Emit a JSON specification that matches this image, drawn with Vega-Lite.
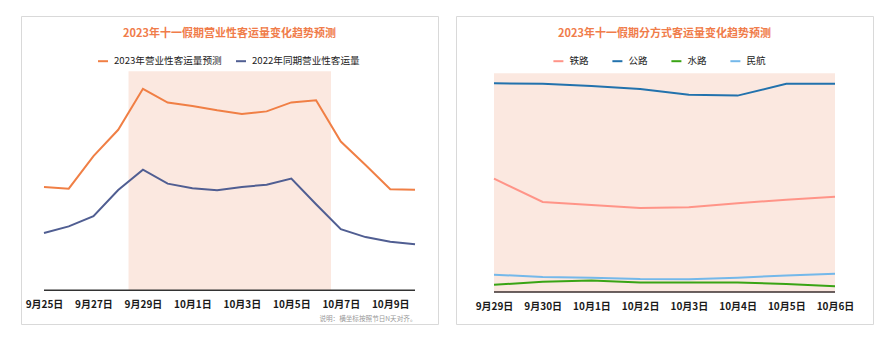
{
  "$schema": "https://vega.github.io/schema/vega-lite/v6.json",
  "padding": {"left": 20, "top": 15, "right": 0, "bottom": 0},
  "background": "white",
  "spacing": 16,
  "config": {
    "font": "Noto Sans CJK SC",
    "view": {"stroke": "#d9d9d9", "strokeWidth": 1},
    "axis": {"grid": false}
  },
  "resolve": {"scale": {"color": "independent"}, "legend": {"color": "independent"}},
  "datasets": {
    "left": [
      {"date": "2023-09-25T00:00:00", "series": "2023年营业性客运量预测", "value": 47.2},
      {"date": "2023-09-26T00:00:00", "series": "2023年营业性客运量预测", "value": 46.4},
      {"date": "2023-09-27T00:00:00", "series": "2023年营业性客运量预测", "value": 61.3},
      {"date": "2023-09-28T00:00:00", "series": "2023年营业性客运量预测", "value": 73.3},
      {"date": "2023-09-29T00:00:00", "series": "2023年营业性客运量预测", "value": 92.0},
      {"date": "2023-09-30T00:00:00", "series": "2023年营业性客运量预测", "value": 85.7},
      {"date": "2023-10-01T00:00:00", "series": "2023年营业性客运量预测", "value": 84.2},
      {"date": "2023-10-02T00:00:00", "series": "2023年营业性客运量预测", "value": 82.2},
      {"date": "2023-10-03T00:00:00", "series": "2023年营业性客运量预测", "value": 80.5},
      {"date": "2023-10-04T00:00:00", "series": "2023年营业性客运量预测", "value": 81.7},
      {"date": "2023-10-05T00:00:00", "series": "2023年营业性客运量预测", "value": 85.8},
      {"date": "2023-10-06T00:00:00", "series": "2023年营业性客运量预测", "value": 86.8},
      {"date": "2023-10-07T00:00:00", "series": "2023年营业性客运量预测", "value": 67.9},
      {"date": "2023-10-08T00:00:00", "series": "2023年营业性客运量预测", "value": 57.2},
      {"date": "2023-10-09T00:00:00", "series": "2023年营业性客运量预测", "value": 46.1},
      {"date": "2023-10-10T00:00:00", "series": "2023年营业性客运量预测", "value": 45.9},
      {"date": "2023-09-25T00:00:00", "series": "2022年同期营业性客运量", "value": 26.2},
      {"date": "2023-09-26T00:00:00", "series": "2022年同期营业性客运量", "value": 29.2},
      {"date": "2023-09-27T00:00:00", "series": "2022年同期营业性客运量", "value": 33.8},
      {"date": "2023-09-28T00:00:00", "series": "2022年同期营业性客运量", "value": 45.8},
      {"date": "2023-09-29T00:00:00", "series": "2022年同期营业性客运量", "value": 55.1},
      {"date": "2023-09-30T00:00:00", "series": "2022年同期营业性客运量", "value": 48.7},
      {"date": "2023-10-01T00:00:00", "series": "2022年同期营业性客运量", "value": 46.6},
      {"date": "2023-10-02T00:00:00", "series": "2022年同期营业性客运量", "value": 45.7},
      {"date": "2023-10-03T00:00:00", "series": "2022年同期营业性客运量", "value": 47.2},
      {"date": "2023-10-04T00:00:00", "series": "2022年同期营业性客运量", "value": 48.2},
      {"date": "2023-10-05T00:00:00", "series": "2022年同期营业性客运量", "value": 51.0},
      {"date": "2023-10-06T00:00:00", "series": "2022年同期营业性客运量", "value": 39.3},
      {"date": "2023-10-07T00:00:00", "series": "2022年同期营业性客运量", "value": 27.9},
      {"date": "2023-10-08T00:00:00", "series": "2022年同期营业性客运量", "value": 24.3},
      {"date": "2023-10-09T00:00:00", "series": "2022年同期营业性客运量", "value": 22.2},
      {"date": "2023-10-10T00:00:00", "series": "2022年同期营业性客运量", "value": 21.0}
    ],
    "right": [
      {"date": "2023-09-29T00:00:00", "mode": "公路", "value": 95.4},
      {"date": "2023-09-30T00:00:00", "mode": "公路", "value": 95.2},
      {"date": "2023-10-01T00:00:00", "mode": "公路", "value": 94.2},
      {"date": "2023-10-02T00:00:00", "mode": "公路", "value": 92.8},
      {"date": "2023-10-03T00:00:00", "mode": "公路", "value": 90.2},
      {"date": "2023-10-04T00:00:00", "mode": "公路", "value": 89.8},
      {"date": "2023-10-05T00:00:00", "mode": "公路", "value": 95.2},
      {"date": "2023-10-06T00:00:00", "mode": "公路", "value": 95.2},
      {"date": "2023-09-29T00:00:00", "mode": "铁路", "value": 51.8},
      {"date": "2023-09-30T00:00:00", "mode": "铁路", "value": 41.2},
      {"date": "2023-10-01T00:00:00", "mode": "铁路", "value": 39.8},
      {"date": "2023-10-02T00:00:00", "mode": "铁路", "value": 38.4},
      {"date": "2023-10-03T00:00:00", "mode": "铁路", "value": 38.7},
      {"date": "2023-10-04T00:00:00", "mode": "铁路", "value": 40.6},
      {"date": "2023-10-05T00:00:00", "mode": "铁路", "value": 42.2},
      {"date": "2023-10-06T00:00:00", "mode": "铁路", "value": 43.6},
      {"date": "2023-09-29T00:00:00", "mode": "民航", "value": 7.9},
      {"date": "2023-09-30T00:00:00", "mode": "民航", "value": 6.9},
      {"date": "2023-10-01T00:00:00", "mode": "民航", "value": 6.5},
      {"date": "2023-10-02T00:00:00", "mode": "民航", "value": 5.9},
      {"date": "2023-10-03T00:00:00", "mode": "民航", "value": 5.8},
      {"date": "2023-10-04T00:00:00", "mode": "民航", "value": 6.5},
      {"date": "2023-10-05T00:00:00", "mode": "民航", "value": 7.6},
      {"date": "2023-10-06T00:00:00", "mode": "民航", "value": 8.4},
      {"date": "2023-09-29T00:00:00", "mode": "水路", "value": 3.3},
      {"date": "2023-09-30T00:00:00", "mode": "水路", "value": 4.7},
      {"date": "2023-10-01T00:00:00", "mode": "水路", "value": 5.3},
      {"date": "2023-10-02T00:00:00", "mode": "水路", "value": 4.3},
      {"date": "2023-10-03T00:00:00", "mode": "水路", "value": 4.4},
      {"date": "2023-10-04T00:00:00", "mode": "水路", "value": 4.4},
      {"date": "2023-10-05T00:00:00", "mode": "水路", "value": 3.7},
      {"date": "2023-10-06T00:00:00", "mode": "水路", "value": 2.6}
    ],
    "leftShade": [{"date": "2023-09-28T10:00:00", "end": "2023-10-06T14:30:00"}],
    "rightShade": [{"date": "2023-09-29T00:00:00", "end": "2023-10-06T00:00:00"}]
  },
  "hconcat": [
    {
      "width": 417,
      "height": 308,
      "title": {"text": "2023年十一假期营业性客运量变化趋势预测", "color": "#f07c4a", "fontSize": 11, "fontWeight": "bold", "anchor": "middle", "frame": "group", "offset": -29, "baseline": "middle"},
      "encoding": {
        "x": {
          "field": "date", "type": "temporal", "title": "说明：横坐标按照节日N天对齐。",
          "scale": {"domain": [{"year": 2023, "month": 9, "date": 25}, {"year": 2023, "month": 10, "date": 10}], "nice": false, "padding": 23},
          "axis": {
            "format": "%-m月%-d日",
            "values": [{"year": 2023, "month": 9, "date": 25}, {"year": 2023, "month": 9, "date": 27}, {"year": 2023, "month": 9, "date": 29}, {"year": 2023, "month": 10, "date": 1}, {"year": 2023, "month": 10, "date": 3}, {"year": 2023, "month": 10, "date": 5}, {"year": 2023, "month": 10, "date": 7}, {"year": 2023, "month": 10, "date": 9}],
            "domain": false, "ticks": false, "labelFlush": false, "labelOverlap": false,
            "labelFontSize": 10, "labelFontWeight": "bold", "labelColor": "#1a1a1a", "labelPadding": 2,
            "offset": -27,
            "titleFontSize": 6.6, "titleColor": "#999999", "titleFontWeight": "normal",
            "titleX": 395, "titleY": 21.7, "titleAlign": "right", "titleBaseline": "middle"
          }
        }
      },
      "layer": [
        {
          "data": {"name": "leftShade"},
          "mark": {"type": "rect", "color": "#fbe8e0"},
          "encoding": {
            "x2": {"field": "end"},
            "y": {"datum": 0, "axis": null},
            "y2": {"datum": 100}
          }
        },
        {
          "data": {"name": "left"},
          "transform": [{"aggregate": [{"op": "min", "field": "date", "as": "date"}, {"op": "max", "field": "date", "as": "last"}], "groupby": []}],
          "mark": {"type": "rule", "color": "#333333", "strokeWidth": 1.5},
          "encoding": {
            "x2": {"field": "last"},
            "y": {"datum": 0, "axis": null}
          }
        },
        {
          "data": {"name": "left"},
          "mark": {"type": "line", "strokeWidth": 2},
          "encoding": {
            "y": {"field": "value", "type": "quantitative", "scale": {"domain": [-15.39, 125.25], "nice": false, "zero": false}, "axis": null},
            "color": {
              "field": "series", "type": "nominal",
              "scale": {"domain": ["2023年营业性客运量预测", "2022年同期营业性客运量"], "range": ["#f07f45", "#505e92"]},
              "legend": {"title": null, "orient": "none", "legendX": 76, "legendY": 39, "direction": "horizontal", "symbolType": "stroke", "symbolSize": 100, "symbolStrokeWidth": 2, "labelFontSize": 9.6, "labelColor": "#222222", "columnPadding": 10, "labelOffset": 5}
            }
          }
        }
      ]
    },
    {
      "width": 417,
      "height": 308,
      "title": {"text": "2023年十一假期分方式客运量变化趋势预测", "color": "#f07c4a", "fontSize": 11, "fontWeight": "bold", "anchor": "middle", "frame": "group", "offset": -29, "baseline": "middle"},
      "encoding": {
        "x": {
          "field": "date", "type": "temporal", "title": null,
          "scale": {"domain": [{"year": 2023, "month": 9, "date": 29}, {"year": 2023, "month": 10, "date": 6}], "nice": false, "padding": 38},
          "axis": {
            "format": "%-m月%-d日",
            "values": [{"year": 2023, "month": 9, "date": 29}, {"year": 2023, "month": 9, "date": 30}, {"year": 2023, "month": 10, "date": 1}, {"year": 2023, "month": 10, "date": 2}, {"year": 2023, "month": 10, "date": 3}, {"year": 2023, "month": 10, "date": 4}, {"year": 2023, "month": 10, "date": 5}, {"year": 2023, "month": 10, "date": 6}],
            "domain": false, "ticks": false, "labelFlush": false, "labelOverlap": false,
            "labelFontSize": 10, "labelFontWeight": "bold", "labelColor": "#1a1a1a", "labelPadding": 2,
            "offset": -25
          }
        }
      },
      "layer": [
        {
          "data": {"name": "rightShade"},
          "mark": {"type": "rect", "color": "#fbe8e0"},
          "encoding": {
            "x2": {"field": "end"},
            "y": {"datum": 0, "axis": null},
            "y2": {"datum": 100}
          }
        },
        {
          "data": {"name": "right"},
          "transform": [{"aggregate": [{"op": "min", "field": "date", "as": "date"}, {"op": "max", "field": "date", "as": "last"}], "groupby": []}],
          "mark": {"type": "rule", "color": "#3a2e2e", "strokeWidth": 1.5},
          "encoding": {
            "x2": {"field": "last"},
            "y": {"datum": 0, "axis": null}
          }
        },
        {
          "data": {"name": "right"},
          "mark": {"type": "line", "strokeWidth": 2},
          "encoding": {
            "y": {"field": "value", "type": "quantitative", "scale": {"domain": [-14.63, 126.2], "nice": false, "zero": false}, "axis": null},
            "color": {
              "field": "mode", "type": "nominal",
              "scale": {"domain": ["铁路", "公路", "水路", "民航"], "range": ["#ff9488", "#2272ad", "#3aa415", "#74b8ea"]},
              "legend": {"title": null, "orient": "none", "legendX": 96.4, "legendY": 39, "direction": "horizontal", "symbolType": "stroke", "symbolSize": 100, "symbolStrokeWidth": 2, "labelFontSize": 9.6, "labelColor": "#222222", "columnPadding": 19, "labelOffset": 5}
            }
          }
        }
      ]
    }
  ]
}
